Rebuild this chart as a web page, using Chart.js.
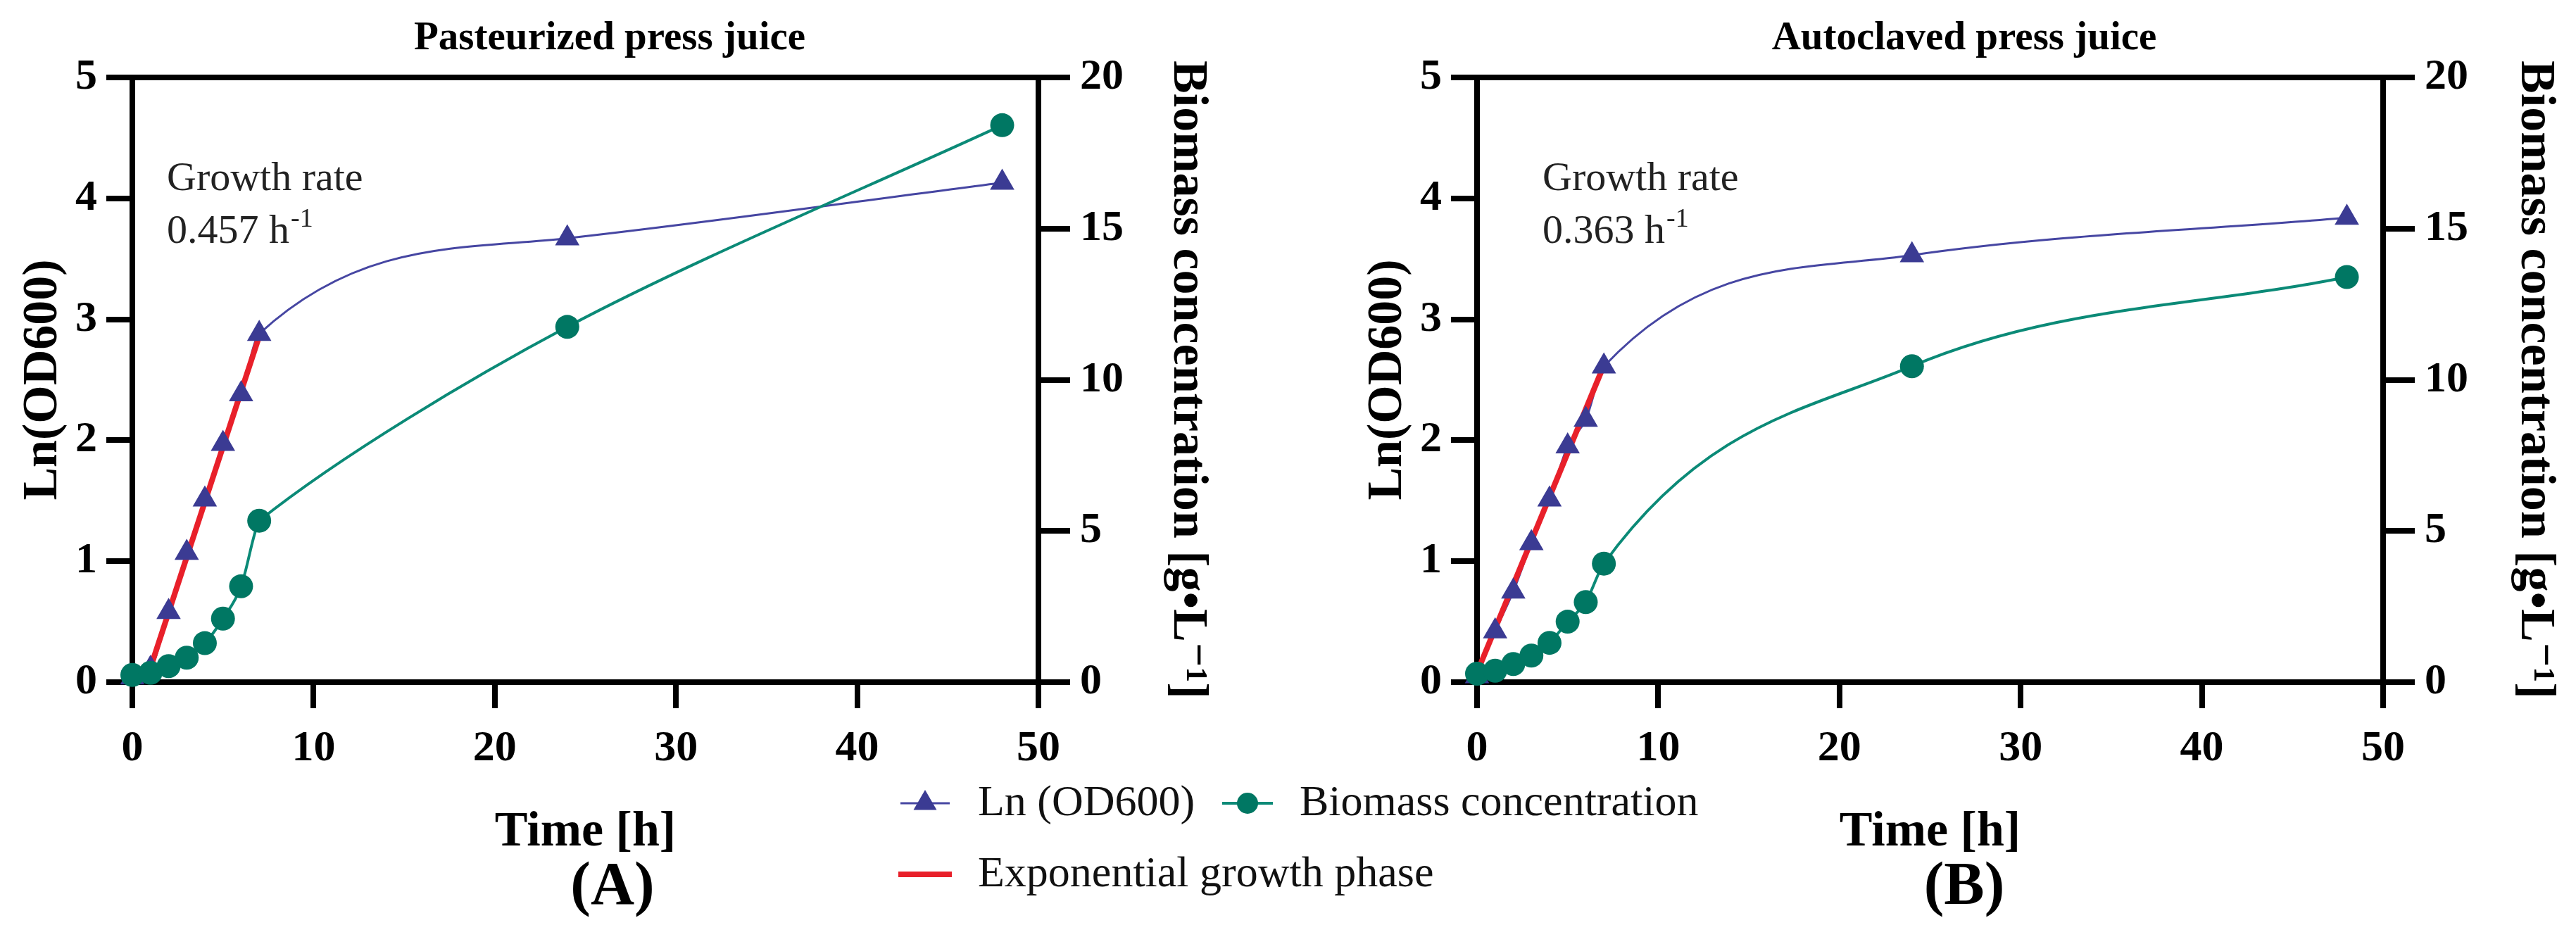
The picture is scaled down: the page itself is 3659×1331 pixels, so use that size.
<!DOCTYPE html>
<html>
<head>
<meta charset="utf-8">
<script src="https://cdn.jsdelivr.net/npm/chart.js@4.4.1/dist/chart.umd.min.js"></script>
<style>
  html, body { margin: 0; padding: 0; background: #fff; overflow: hidden; }
  #wrap { position: relative; width: 3659px; height: 1331px; }
  canvas { position: absolute; top: 0; }
</style>
</head>
<body>
<div id="wrap">
  <canvas id="chartA" width="3659" height="1331" style="left:0;width:3659px;height:1331px"></canvas>
  <canvas id="chartB" width="1749" height="1331" style="left:1910px;width:1749px;height:1331px"></canvas>
</div>
<script>
// sampling times [h]
const hours = [0, 1, 2, 3, 4, 5, 6, 7, 24, 48];

// (A) pasteurized press juice
const lnOdA = [0.04, 0.11, 0.58, 1.07, 1.51, 1.97, 2.38, 2.88, 3.67, 4.13];
const biomassA = [0.24, 0.31, 0.53, 0.81, 1.29, 2.1, 3.17, 5.34, 11.75, 18.42];
const expHoursA = [1, 7];
const expLnA = [0.12, 2.86];

// (B) autoclaved press juice
const lnOdB = [0.05, 0.42, 0.75, 1.15, 1.51, 1.95, 2.17, 2.61, 3.53, 3.84];
const biomassB = [0.28, 0.38, 0.6, 0.88, 1.3, 2.0, 2.65, 3.92, 10.45, 13.4];
const expHoursB = [0, 7];
const expLnB = [0.08, 2.62];

const panelTitles = ['Pasteurized press juice', 'Autoclaved press juice'];
const panelLetters = ['(A)', '(B)'];
const growthRates = ['0.457', '0.363'];
const legendLabels = ['Ln (OD600)', 'Biomass concentration', 'Exponential growth phase'];
const xTitle = 'Time [h]';
const yTitle = 'Ln(OD600)';
const y2Title = 'Biomass concentration [g\u2022L\u207B\u00B9]';

const SERIF = '"Liberation Serif", "DejaVu Serif", serif';
const BLUE = '#3b3b93';
const BLUE_LINE = '#4646a2';
const TEAL = '#007763';
const TEAL_LINE = '#0b8a77';
const RED = '#e8202a';
const NONE = 'rgba(0,0,0,0)';

function pts(xs, ys) {
  return xs.map((x, i) => ({ x: x, y: ys[i] }));
}

function drawLegend(ctx) {
  ctx.save();
  ctx.font = '62px ' + SERIF;
  ctx.textAlign = 'left';
  ctx.textBaseline = 'middle';
  ctx.fillStyle = '#111';

  // Ln (OD600)
  ctx.strokeStyle = BLUE_LINE;
  ctx.lineWidth = 3;
  ctx.beginPath(); ctx.moveTo(1279, 1141); ctx.lineTo(1349, 1141); ctx.stroke();
  ctx.fillStyle = BLUE;
  ctx.beginPath();
  ctx.moveTo(1314, 1141 - 19);
  ctx.lineTo(1314 + 16.5, 1141 + 9.5);
  ctx.lineTo(1314 - 16.5, 1141 + 9.5);
  ctx.closePath(); ctx.fill();
  ctx.fillStyle = '#111';
  ctx.fillText(legendLabels[0], 1389, 1142);

  // biomass
  ctx.strokeStyle = TEAL_LINE;
  ctx.lineWidth = 4;
  ctx.beginPath(); ctx.moveTo(1736, 1141); ctx.lineTo(1808, 1141); ctx.stroke();
  ctx.fillStyle = TEAL;
  ctx.beginPath(); ctx.arc(1772, 1141, 15, 0, Math.PI * 2); ctx.fill();
  ctx.fillStyle = '#111';
  ctx.fillText(legendLabels[1], 1846, 1142);

  // exponential phase
  ctx.strokeStyle = RED;
  ctx.lineWidth = 8;
  ctx.beginPath(); ctx.moveTo(1276, 1242); ctx.lineTo(1352, 1242); ctx.stroke();
  ctx.fillText(legendLabels[2], 1389, 1243);
  ctx.restore();
}

const panelDecor = {
  id: 'panelDecor',
  afterDraw(chart, args, opts) {
    const ctx = chart.ctx;
    ctx.save();
    ctx.fillStyle = '#000';
    ctx.textAlign = 'center';
    ctx.textBaseline = 'middle';
    ctx.font = 'bold 57px ' + SERIF;
    ctx.fillText(opts.title, opts.titleX, 55);
    ctx.font = 'bold 86px ' + SERIF;
    ctx.fillText(opts.letter, opts.letterX, 1262);

    // growth rate note
    ctx.textAlign = 'left';
    ctx.textBaseline = 'alphabetic';
    ctx.fillStyle = '#222';
    ctx.font = '58px ' + SERIF;
    ctx.fillText('Growth rate', opts.noteX, 270);
    const rateText = opts.rate + ' h';
    ctx.fillText(rateText, opts.noteX, 345);
    const w = ctx.measureText(rateText).width;
    ctx.font = '38px ' + SERIF;
    ctx.fillText('-1', opts.noteX + w + 2, 322);

    if (opts.legend) drawLegend(ctx);
    ctx.restore();
  }
};

function tickFont() {
  return { family: SERIF, size: 62, weight: 'bold', lineHeight: 1 };
}
function titleFont() {
  return { family: SERIF, size: 70, weight: 'bold', lineHeight: 1 };
}

function makePanel(id, ln, bio, expX, expY, idx, opts) {
  const datasets = [
    {
      label: legendLabels[1], data: pts(hours, bio), yAxisID: 'y2', order: 1,
      borderColor: TEAL_LINE, borderWidth: 4,
      pointStyle: 'circle', pointRadius: 17, pointBackgroundColor: TEAL, pointBorderWidth: 0,
      cubicInterpolationMode: 'monotone', clip: false
    },
    {
      label: legendLabels[0], data: pts(hours, ln), yAxisID: 'y', order: 2, showLine: false,
      pointStyle: 'triangle', pointRadius: 20, pointBackgroundColor: BLUE, pointBorderWidth: 0,
      clip: false
    },
    {
      label: legendLabels[2], data: pts(expX, expY), yAxisID: 'y', order: 3,
      borderColor: RED, borderWidth: 8, pointRadius: 0, clip: false
    },
    {
      label: legendLabels[0] + ' curve', data: pts(hours, ln), yAxisID: 'y', order: 4,
      borderColor: BLUE_LINE, borderWidth: 3, pointRadius: 0,
      cubicInterpolationMode: 'monotone', clip: false
    }
  ];
  if (opts.lateTension) {
    // smoother bend after the exponential phase: bezier spline for the late points only
    const split = opts.splitIndex;
    datasets[0].segment = { borderColor: c => c.p0DataIndex >= split ? NONE : undefined };
    datasets.push({
      label: legendLabels[1] + ' curve', data: pts(hours, bio), yAxisID: 'y2', order: 1.5,
      borderColor: TEAL_LINE, borderWidth: 4, pointRadius: 0, tension: opts.lateTension,
      segment: { borderColor: c => c.p0DataIndex < split ? NONE : undefined },
      clip: false
    });
  }
  return new Chart(document.getElementById(id), {
    type: 'line',
    data: { datasets: datasets },
    options: {
      responsive: false,
      devicePixelRatio: 1,
      animation: false,
      events: [],
      layout: { padding: { left: 0, top: 110, right: opts.padRight, bottom: 0 } },
      plugins: {
        legend: { display: false },
        tooltip: { enabled: false },
        panelDecor: {
          title: panelTitles[idx], titleX: opts.titleX,
          letter: panelLetters[idx], letterX: opts.letterX,
          rate: growthRates[idx], noteX: opts.noteX,
          legend: idx === 0
        }
      },
      scales: {
        x: {
          type: 'linear', position: 'bottom', min: 0, max: 50,
          afterFit: s => { s.height = 362; },
          ticks: { stepSize: 10, autoSkip: false, maxRotation: 0, padding: 27, color: '#000', font: tickFont() },
          grid: { drawOnChartArea: false, tickLength: 37, lineWidth: 8, color: '#000' },
          border: { width: 8, color: '#000' },
          title: { display: true, text: xTitle, color: '#000', font: titleFont(), padding: { top: 0, bottom: 113 } }
        },
        y: {
          type: 'linear', position: 'left', min: 0, max: 5,
          afterFit: s => { s.width = 188; },
          ticks: { stepSize: 1, padding: 13, color: '#000', font: tickFont() },
          grid: {
            drawOnChartArea: true, tickLength: 37, lineWidth: 8, tickColor: '#000',
            color: c => (c.tick && c.tick.value === 5) ? '#000' : NONE
          },
          border: { width: 8, color: '#000' },
          title: { display: true, text: yTitle, color: '#000', font: titleFont(), padding: { top: 27, bottom: 0 } }
        },
        y2: {
          type: 'linear', position: 'right', min: 0, max: 20,
          afterFit: s => { s.width = opts.rightWidth; },
          ticks: { stepSize: 5, padding: 14, color: '#000', font: tickFont() },
          grid: { drawOnChartArea: false, tickLength: 45, lineWidth: 8, color: '#000' },
          border: { width: 8, color: '#000' },
          title: { display: true, text: y2Title, color: '#000', font: titleFont(), padding: { top: opts.rightTitlePad, bottom: 0 } }
        }
      }
    },
    plugins: [panelDecor]
  });
}

makePanel('chartA', lnOdA, biomassA, expHoursA, expLnA, 0,
  { padRight: 1899, rightWidth: 285, rightTitlePad: 39, titleX: 866, letterX: 870, noteX: 237,
    lateTension: 0.3, splitIndex: 7 });
makePanel('chartB', lnOdB, biomassB, expHoursB, expLnB, 1,
  { padRight: 0, rightWidth: 274, rightTitlePad: 24, titleX: 880, letterX: 880, noteX: 281 });
</script>
</body>
</html>
